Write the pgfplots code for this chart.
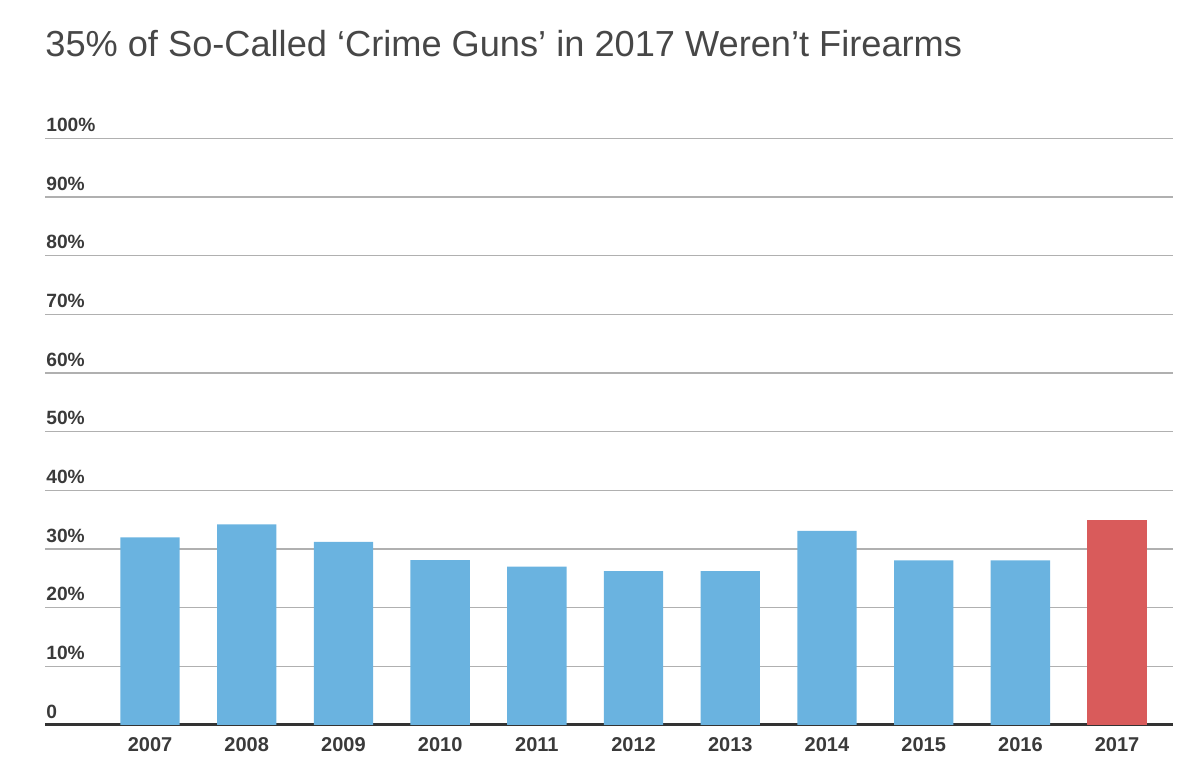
\documentclass[border=0pt]{standalone}
\usepackage{pgfplots}
\pgfplotsset{compat=1.18}
\usepackage{fontspec}
\setmainfont{Liberation Sans}
\definecolor{barblue}{HTML}{6AB3E0}
\definecolor{barred}{HTML}{D95B5B}
\definecolor{titlegray}{HTML}{474747}
\definecolor{labgray}{HTML}{3A3A3A}
\definecolor{gridgray}{HTML}{B0B0B0}
\definecolor{axisdark}{HTML}{333333}
\begin{document}
\begin{tikzpicture}
\useasboundingbox (0,0) rectangle (600bp,391bp);
\node[anchor=base west, inner sep=0pt, text=titlegray, font=\fontsize{18.1bp}{21bp}\selectfont] at (22.5bp,362.5bp) {35\% of So-Called ‘Crime Guns’ in 2017 Weren’t Firearms};
\begin{axis}[
  at={(22.5bp,28.5bp)}, anchor=south west,
  scale only axis,
  width=563.9bp, height=293.3bp,
  xmin=-1.086, xmax=10.576,
  ymin=0, ymax=100,
  axis x line*=bottom,
  axis y line*=left,
  y axis line style={draw=none},
  x axis line style={draw=axisdark, line width=1.5bp, -},
  ymajorgrids,
  grid style={draw=gridgray, line width=0.7bp},
  ytick={0,10,...,100},
  yticklabels={0,10\%,20\%,30\%,40\%,50\%,60\%,70\%,80\%,90\%,100\%},
  yticklabel style={anchor=south west, inner sep=0pt, xshift=0.5bp, yshift=3.2bp, text=labgray, font=\bfseries\fontsize{9.6bp}{11bp}\selectfont},
  xtick={0,...,10},
  xticklabels={2007,2008,2009,2010,2011,2012,2013,2014,2015,2016,2017},
  xticklabel style={anchor=north, inner sep=0pt, yshift=-6bp, text=labgray, font=\bfseries\fontsize{10bp}{12bp}\selectfont},
  major tick length=0pt,
  tick style={draw=none},
  ybar, bar width=29.65bp, bar shift=0pt,
  clip=false,
]
\addplot[fill=barblue, draw=none] coordinates {(0,32.0) (1,34.2) (2,31.2) (3,28.1) (4,27.0) (5,26.25) (6,26.25) (7,33.1) (8,28.05) (9,28.05)};
\addplot[fill=barred, draw=none] coordinates {(10,35.0)};
\end{axis}
\end{tikzpicture}
\end{document}
